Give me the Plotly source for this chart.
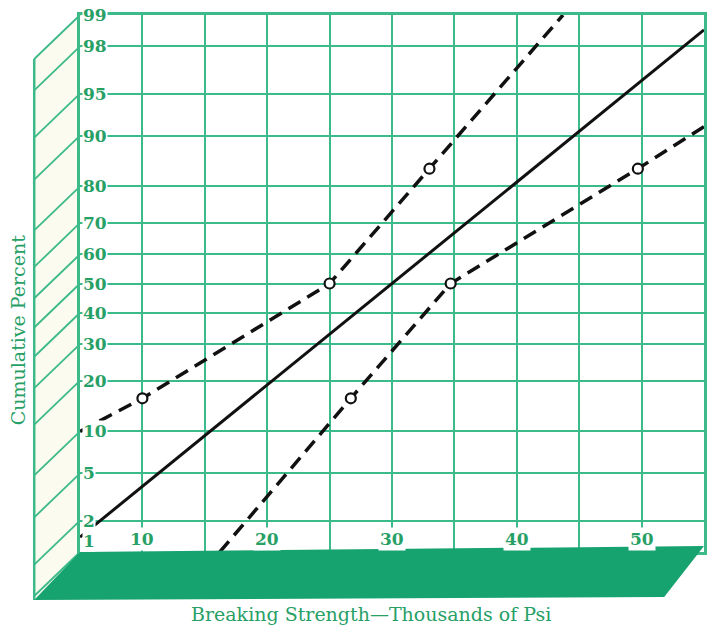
"""
Normal probability paper chart: breaking strength vs cumulative percent.
Y axis is drawn in normal-score (z) space, labelled with percentages.
"""

from statistics import NormalDist

import plotly.graph_objects as go


# ── Colours ───────────────────────────────────────────────────────────────────
THEME = {
    "grid"  : "#3dba8a",
    "text"  : "#27a066",
    "floor" : "#17a36f",
    "wall"  : "#fbfbef",
    "ink"   : "#111111",
}

# ── Data ──────────────────────────────────────────────────────────────────────
PCT_TICKS   = [1, 2, 5, 10, 20, 30, 40, 50, 60, 70, 80, 90, 95, 98, 99]
X_TICKS     = [10, 20, 30, 40, 50]
X_GRID      = [5, 10, 15, 20, 25, 30, 35, 40, 45, 50, 55]

solid_x     = [5, 55]
solid_pct   = [1.4, 98.6]

upper_x     = [5, 10, 25, 33, 43.7]
upper_pct   = [10, 16, 50, 84, 99]
upper_pts_x = [10, 25, 33]
upper_pts_p = [16, 50, 84]

lower_x     = [16.2, 26.7, 34.7, 49.7, 55]
lower_pct   = [1, 16, 50, 84, 91.3]
lower_pts_x = [26.7, 34.7, 49.7]
lower_pts_p = [16, 50, 84]

# ── Canvas geometry (pixels) ──────────────────────────────────────────────────
W, H        = 707, 626
M_L, M_R    = 80, 0
M_T, M_B    = 15, 74
PW          = W - M_L - M_R
PH          = H - M_T - M_B


def z(p):
    """Percent -> normal score."""
    return NormalDist().inv_cdf(p / 100.0)


Z_MIN, Z_MAX = z(1), z(99)


def px(xp):
    """pixel x -> paper x"""
    return (xp - M_L) / PW


def py(yp):
    """pixel y -> paper y"""
    return (H - M_B - yp) / PH


def zpaper(zv):
    return (zv - Z_MIN) / (Z_MAX - Z_MIN)


fig = go.Figure()

line_style = dict(color=THEME["ink"], width=3.5, dash="14px,8px")

fig.add_trace(go.Scatter(
    x=solid_x, y=[z(p) for p in solid_pct], mode="lines",
    line=dict(color=THEME["ink"], width=3), hoverinfo="skip",
))
fig.add_trace(go.Scatter(
    x=upper_x, y=[z(p) for p in upper_pct], mode="lines",
    line=line_style, hoverinfo="skip",
))
fig.add_trace(go.Scatter(
    x=lower_x, y=[z(p) for p in lower_pct], mode="lines",
    line=line_style, hoverinfo="skip",
))
fig.add_trace(go.Scatter(
    x=upper_pts_x + lower_pts_x,
    y=[z(p) for p in upper_pts_p + lower_pts_p],
    mode="markers",
    marker=dict(symbol="circle", size=10, color="white",
                line=dict(color=THEME["ink"], width=2.2)),
    hoverinfo="skip",
))

# ── 3-D decoration: side wall and floor ───────────────────────────────────────
shapes = []
WALL_DX = 46   # wall depth, px
WALL_DY = 44   # drop of the receding lines, px

outer_x = px(M_L - WALL_DX)
shapes.append(dict(
    type="path", xref="paper", yref="paper", layer="below",
    path=(f"M 0 1 L {outer_x} {1 - WALL_DY / PH} "
          f"L {outer_x} {py(600)} L 0 {py(600)} Z"),
    fillcolor=THEME["wall"], line=dict(width=0),
))
for p in PCT_TICKS:
    y0 = zpaper(z(p))
    shapes.append(dict(
        type="line", xref="paper", yref="paper",
        x0=0, y0=y0, x1=outer_x, y1=y0 - WALL_DY / PH,
        line=dict(color=THEME["grid"], width=1.8),
    ))
shapes.append(dict(
    type="line", xref="paper", yref="paper",
    x0=outer_x, y0=1 - WALL_DY / PH, x1=outer_x, y1=py(600),
    line=dict(color=THEME["grid"], width=2.5),
))
# floor
shapes.append(dict(
    type="path", xref="paper", yref="paper",
    path=(f"M 0 0 L {px(707)} {py(546)} L {px(667)} {py(597)} "
          f"L {outer_x} {py(600)} Z"),
    fillcolor=THEME["floor"], line=dict(width=0),
))

# ── Tick labels as real text over the grid ────────────────────────────────────
annotations = []
tick_font = dict(family="DejaVu Serif", size=17, color=THEME["text"])
for p in PCT_TICKS:
    annotations.append(dict(
        x=0.004, xref="paper", y=z(p), yref="y",
        text=f"<b>{p}</b>", showarrow=False, font=tick_font,
        xanchor="left", yanchor="bottom" if p == 1 else "middle",
        yshift=0 if p == 1 else 0,
        bgcolor="white", borderpad=0,
    ))
for v in X_TICKS:
    annotations.append(dict(
        x=v, xref="x", y=0, yref="paper",
        text=f"<b>{v}</b>", showarrow=False, font=tick_font,
        xanchor="center", yanchor="bottom", yshift=1,
        bgcolor="white", borderpad=1,
    ))

annotations.append(dict(
    x=px(18), y=py(330), xref="paper", yref="paper",
    text="Cumulative Percent", textangle=-90, showarrow=False,
    font=dict(family="DejaVu Serif", size=19, color=THEME["text"]),
    xanchor="center", yanchor="middle",
))
annotations.append(dict(
    x=px(372), y=py(614), xref="paper", yref="paper",
    text="Breaking Strength\u2014Thousands of Psi", showarrow=False,
    font=dict(family="DejaVu Serif", size=19, color=THEME["text"]),
    xanchor="center", yanchor="middle",
))

fig.update_layout(
    width=W, height=H,
    margin=dict(l=M_L, r=M_R, t=M_T, b=M_B),
    plot_bgcolor="white", paper_bgcolor="white",
    showlegend=False,
    shapes=shapes,
    annotations=annotations,
)
fig.update_xaxes(
    range=[5, 55], tickvals=X_GRID, showticklabels=False,
    showgrid=True, gridcolor=THEME["grid"], gridwidth=1.8,
    showline=True, mirror=True, linecolor=THEME["grid"], linewidth=2.5,
    zeroline=False, ticks="",
)
fig.update_yaxes(
    range=[Z_MIN, Z_MAX], tickvals=[z(p) for p in PCT_TICKS], showticklabels=False,
    showgrid=True, gridcolor=THEME["grid"], gridwidth=1.8,
    showline=True, mirror=True, linecolor=THEME["grid"], linewidth=2.5,
    zeroline=False, ticks="",
)

fig.write_html(
    "out.html",
    config={"displayModeBar": False},
    post_script="document.body.style.margin='0';",
)
